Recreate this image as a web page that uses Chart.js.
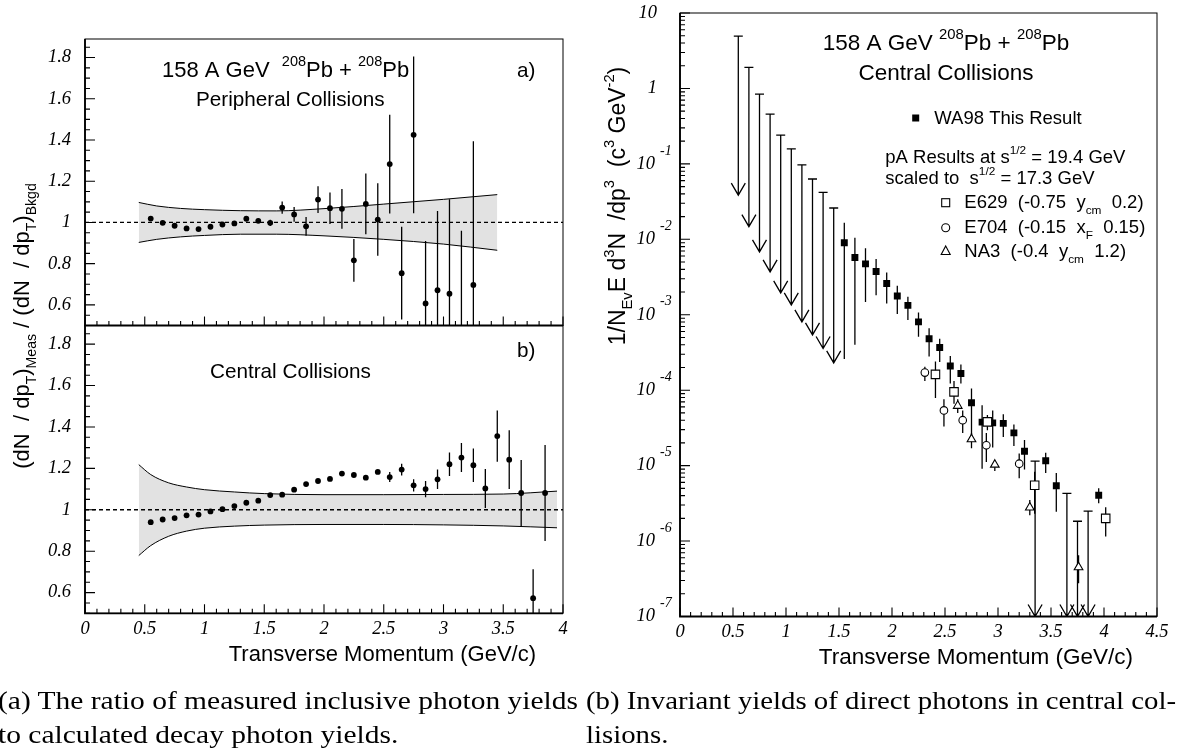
<!DOCTYPE html>
<html lang="en">
<head>
<meta charset="UTF-8">
<title>WA98 direct photons</title>
<script src="https://cdn.jsdelivr.net/npm/chart.js"></script>
<style>
  body { margin: 0; background: #fff; }
  #page { position: relative; width: 1180px; height: 749px; overflow: hidden; background: #fff; }
  #page canvas { position: absolute; left: 0; top: 0; }
  .cap {
    position: absolute;
    font-family: 'Liberation Serif', 'Times New Roman', serif;
    font-size: 26px;
    line-height: 26px;
    white-space: nowrap;
    transform-origin: 0 0;
    color: #000;
  }
</style>
</head>
<body>
<div id="page">
  <canvas id="periph" width="1180" height="749"></canvas>
  <canvas id="central" width="1180" height="749"></canvas>
  <canvas id="yields" width="1180" height="749"></canvas>
  <div class="cap" id="capA1" data-w="580" data-pair="capA2" style="left:-2px; top:688px;">(a) The ratio of measured inclusive photon yields</div>
  <div class="cap" id="capA2" style="left:-2px; top:722px;">to calculated decay photon yields.</div>
  <div class="cap" id="capB1" data-w="590" data-pair="capB2" style="left:586px; top:688px;">(b) Invariant yields of direct photons in central col-</div>
  <div class="cap" id="capB2" style="left:586px; top:722px;">lisions.</div>
</div>

<script>
// ---------- data: panel a) peripheral collisions, ratio meas / bkgd ----------
const ptPeri = [0.55, 0.65, 0.75, 0.85, 0.95, 1.05, 1.15, 1.25, 1.35, 1.45, 1.55, 1.65, 1.75, 1.85,
                1.95, 2.05, 2.15, 2.25, 2.35, 2.45, 2.55, 2.65, 2.75, 2.85, 2.95, 3.05, 3.15, 3.25];
const ratioPeri = [1.019, 0.998, 0.984, 0.971, 0.968, 0.979, 0.990, 0.995, 1.018, 1.008, 0.998, 1.072, 1.039, 0.981,
                   1.111, 1.069, 1.066, 0.816, 1.090, 1.014, 1.283, 0.754, 1.425, 0.607, 0.671, 0.654, 0.400, 0.697];
const errPeri = [0.006, 0.006, 0.006, 0.006, 0.006, 0.007, 0.007, 0.008, 0.008, 0.010, 0.015, 0.030, 0.036, 0.046,
                 0.065, 0.076, 0.096, 0.104, 0.147, 0.176, 0.240, 0.225, 0.380, 0.303, 0.384, 0.459, 0.560, 0.697];
const bandXPeri = [0.45, 0.6, 0.8, 1.0, 1.3, 1.6, 2.0, 2.5, 3.0, 3.45];
const bandHiPeri = [1.097, 1.080, 1.068, 1.062, 1.057, 1.056, 1.067, 1.089, 1.112, 1.135];
const bandLoPeri = [0.903, 0.918, 0.930, 0.937, 0.943, 0.943, 0.935, 0.918, 0.895, 0.865];

// ---------- data: panel b) central collisions ----------
const ptCent = [0.55, 0.65, 0.75, 0.85, 0.95, 1.05, 1.15, 1.25, 1.35, 1.45, 1.55, 1.65, 1.75, 1.85, 1.95, 2.05, 2.15,
                2.25, 2.35, 2.45, 2.55, 2.65, 2.75, 2.85, 2.95, 3.05, 3.15, 3.25, 3.35, 3.45, 3.55, 3.65, 3.75, 3.85];
const ratioCent = [0.940, 0.953, 0.960, 0.973, 0.977, 0.992, 1.003, 1.018, 1.034, 1.044, 1.071, 1.073, 1.097, 1.124,
                   1.139, 1.149, 1.175, 1.168, 1.155, 1.183, 1.158, 1.194, 1.118, 1.100, 1.147, 1.220, 1.252, 1.215,
                   1.103, 1.356, 1.242, 1.081, 0.573, 1.081];
const errCent = [0.005, 0.005, 0.005, 0.005, 0.005, 0.005, 0.005, 0.005, 0.005, 0.005, 0.005, 0.005, 0.005, 0.005,
                 0.005, 0.005, 0.005, 0.005, 0.005, 0.005, 0.024, 0.028, 0.030, 0.039, 0.047, 0.057, 0.070, 0.081,
                 0.094, 0.124, 0.142, 0.159, 0.140, 0.232];
const bandXCent = [0.45, 0.55, 0.7, 0.85, 1.0, 1.25, 1.5, 2.0, 2.5, 3.0, 3.5, 3.95];
const bandHiCent = [1.218, 1.170, 1.130, 1.110, 1.097, 1.086, 1.078, 1.073, 1.073, 1.074, 1.076, 1.090];
const bandLoCent = [0.779, 0.827, 0.872, 0.897, 0.911, 0.921, 0.926, 0.929, 0.929, 0.927, 0.922, 0.913];

// ---------- data: invariant yields (right) ----------
const ptWA = [1.55, 1.65, 1.75, 1.85, 1.95, 2.05, 2.15, 2.25, 2.35, 2.45, 2.55, 2.65, 2.75, 2.85, 2.95, 3.05, 3.15,
              3.25, 3.45, 3.55, 3.95];
const yieldWA = [9.0e-3, 5.75e-3, 4.73e-3, 3.75e-3, 2.6e-3, 1.77e-3, 1.33e-3, 8.05e-4, 4.8e-4, 3.68e-4, 2.09e-4,
                 1.66e-4, 6.8e-5, 3.77e-5, 3.69e-5, 3.63e-5, 2.72e-5, 1.55e-5, 1.16e-5, 5.4e-6, 4.05e-6];
const yieldWAHi = [1.66e-2, 1.05e-2, 7.6e-3, 5.5e-3, 3.63e-3, 2.42e-3, 1.73e-3, 1.07e-3, 6.6e-4, 4.8e-4, 2.85e-4,
                   2.19e-4, 1.05e-4, 6.3e-5, 5.4e-5, 4.8e-5, 3.5e-5, 2.19e-5, 1.48e-5, 8.0e-6, 5.0e-6];
const yieldWALo = [2.6e-4, 4.0e-4, 1.48e-3, 1.82e-3, 1.41e-3, 1.02e-3, 8.5e-4, 5.1e-4, 2.8e-4, 2.37e-4, 1.23e-4,
                   1.23e-4, 2.2e-5, 9.1e-6, 1.74e-5, 2.4e-5, 1.82e-5, 8.9e-6, 8.0e-6, 2.45e-6, 3.16e-6];

// upper limits: top of the bar and where the arrow points
const ptUL = [0.55, 0.65, 0.75, 0.85, 0.95, 1.05, 1.15, 1.25, 1.35, 1.45, 3.35, 3.65, 3.75, 3.85];
const limUL = [4.95, 1.9, 0.84, 0.457, 0.24, 0.158, 0.097, 0.063, 0.042, 0.026, 1.15e-5, 4.3e-6, 1.83e-6, 2.5e-6];
const tipUL = [3.85e-2, 1.47e-2, 6.8e-3, 3.7e-3, 1.95e-3, 1.35e-3, 8.05e-4, 5.4e-4, 3.57e-4, 2.3e-4,
               1e-7, 1e-7, 1e-7, 1e-7];

const ptE629 = [2.41, 2.585, 2.90, 3.346, 4.016];
const yE629 = [1.62e-4, 9.5e-5, 3.8e-5, 5.5e-6, 2.0e-6];
const hiE629 = [2.4e-4, 1.32e-4, 4.7e-5, 8.3e-6, 2.8e-6];
const loE629 = [7.9e-5, 6.6e-5, 2.95e-5, 2.3e-6, 1.15e-6];

const ptE704 = [2.31, 2.49, 2.667, 2.89, 3.20];
const yE704 = [1.71e-4, 5.4e-5, 4.0e-5, 1.86e-5, 1.06e-5];
const hiE704 = [2.04e-4, 7.6e-5, 5.4e-5, 2.7e-5, 1.45e-5];
const loE704 = [1.32e-4, 3.3e-5, 2.7e-5, 1.12e-5, 6.8e-6];

const ptNA3 = [2.62, 2.75, 2.97, 3.30, 3.76];
const yNA3 = [6.2e-5, 2.24e-5, 1.03e-5, 2.78e-6, 4.5e-7];
const hiNA3 = [7.6e-5, 2.7e-5, 1.17e-5, 3.5e-6, 6.5e-7];
const loNA3 = [5.0e-5, 1.7e-5, 8.5e-6, 2.2e-6, 2.75e-7];

// ---------- tick labels ----------
const xTicksLeft = [0, 0.5, 1, 1.5, 2, 2.5, 3, 3.5, 4];
const yTicksLeft = [0.6, 0.8, 1, 1.2, 1.4, 1.6, 1.8];
const xTicksRight = [0, 0.5, 1, 1.5, 2, 2.5, 3, 3.5, 4, 4.5];
const yTicksRight = [1e-7, 1e-6, 1e-5, 1e-4, 1e-3, 1e-2, 1e-1, 1, 10];

const SANS = "'Liberation Sans', Arial, Helvetica, sans-serif";
const SERIF = "'Liberation Serif', 'Times New Roman', serif";

Chart.defaults.animation = false;
Chart.defaults.events = [];
Chart.defaults.plugins.legend.display = false;
Chart.defaults.plugins.tooltip.enabled = false;

const toXY = (xs, ys) => xs.map((x, i) => ({x, y: ys[i]}));

// text with super/subscripts; parts are strings or [text, 'sup'|'sub']
function drawRich(ctx, x, y, parts, size, opt = {}) {
  const fam = opt.family || SANS, style = opt.style || '';
  const small = size * (opt.ratio || 0.64);
  const segs = parts.map(p => {
    const [t, m] = Array.isArray(p) ? p : [p, ''];
    const fs = m ? small : size;
    ctx.font = `${style} ${fs}px ${fam}`;
    return {t, m, fs, w: ctx.measureText(t).width};
  });
  const total = segs.reduce((s, g) => s + g.w, 0);
  let cx = opt.align === 'center' ? x - total / 2 : opt.align === 'right' ? x - total : x;
  ctx.textAlign = 'left';
  ctx.textBaseline = opt.baseline || 'alphabetic';
  segs.forEach(g => {
    ctx.font = `${style} ${g.fs}px ${fam}`;
    const dy = g.m === 'sup' ? -size * 0.48 : g.m === 'sub' ? size * 0.32 : 0;
    ctx.fillText(g.t, cx, y + dy);
    cx += g.w;
  });
  return total;
}

// vertical error bars and upper-limit arrows, drawn just under their own markers
const errorBars = {
  id: 'errorBars',
  beforeDatasetDraw(chart, args) {
    const ds = chart.data.datasets[args.index];
    if (!ds.yHi && !ds.arrowTo) return;
    const {ctx, chartArea: a} = chart;
    const xs = chart.scales.x, ys = chart.scales.y;
    ctx.save();
    ctx.beginPath();
    ctx.rect(a.left, a.top - 2, a.right - a.left, a.bottom - a.top + 2);
    ctx.clip();
    ctx.strokeStyle = '#000';
    ctx.lineWidth = 1.3;
    ctx.beginPath();
    ds.data.forEach((p, i) => {
      const px = xs.getPixelForValue(p.x);
      if (ds.yHi) {
        ctx.moveTo(px, ys.getPixelForValue(ds.yHi[i]));
        ctx.lineTo(px, ys.getPixelForValue(ds.yLo[i]));
      }
      if (ds.arrowTo) {
        const top = ys.getPixelForValue(p.y), tip = ys.getPixelForValue(ds.arrowTo[i]);
        ctx.moveTo(px, top); ctx.lineTo(px, tip);
        ctx.moveTo(px - 4.5, top); ctx.lineTo(px + 4.5, top);
        ctx.moveTo(px - 7, tip - 12); ctx.lineTo(px, tip); ctx.lineTo(px + 7, tip - 12);
      }
    });
    ctx.stroke();
    ctx.restore();
  }
};

// frame, inward ticks, tick labels and annotations
function axesPlugin(cfg) {
  return {
    id: 'axes_' + cfg.name,
    afterDatasetsDraw(chart) {
      const {ctx, chartArea: a} = chart;
      const xs = chart.scales.x, ys = chart.scales.y;
      ctx.save();
      ctx.strokeStyle = '#000';
      ctx.fillStyle = '#000';
      ctx.lineWidth = 1;
      ctx.strokeRect(a.left, a.top, a.right - a.left, a.bottom - a.top);
      ctx.lineWidth = 1.8;
      ctx.beginPath();
      ctx.moveTo(a.left, a.top); ctx.lineTo(a.left, a.bottom); ctx.lineTo(a.right, a.bottom);
      ctx.stroke();

      ctx.lineWidth = 1.1;
      ctx.beginPath();
      cfg.xMinor.forEach(v => { const px = xs.getPixelForValue(v); ctx.moveTo(px, a.bottom); ctx.lineTo(px, a.bottom - 4.5); });
      cfg.xMajor.forEach(v => { const px = xs.getPixelForValue(v); ctx.moveTo(px, a.bottom); ctx.lineTo(px, a.bottom - 9); });
      cfg.yMinor.forEach(v => { const py = ys.getPixelForValue(v); ctx.moveTo(a.left, py); ctx.lineTo(a.left + 5, py); });
      cfg.yMajor.forEach(v => { const py = ys.getPixelForValue(v); ctx.moveTo(a.left, py); ctx.lineTo(a.left + 10, py); });
      ctx.stroke();

      const lab = {family: SERIF, style: 'italic', baseline: 'middle'};
      if (cfg.xLabelY) {
        cfg.xMajor.forEach(v => drawRich(ctx, xs.getPixelForValue(v), cfg.xLabelY, [String(v)], 18.5, {...lab, align: 'center'}));
      }
      if (cfg.logY) {
        cfg.yMajor.forEach(v => {
          const e = Math.round(Math.log10(v)), py = ys.getPixelForValue(v);
          if (e >= 0) {
            drawRich(ctx, cfg.yLabelX + 2, py, [String(v)], 18.5, {...lab, align: 'right'});
          } else {
            drawRich(ctx, cfg.yLabelX, py, ['10'], 18.5, {...lab, align: 'right'});
            drawRich(ctx, cfg.yLabelX + 5, py - 13, [String(e)], 14, {...lab, align: 'left'});
          }
        });
      } else {
        cfg.yMajor.forEach(v => drawRich(ctx, cfg.yLabelX, ys.getPixelForValue(v), [String(v)], 18.5, {...lab, align: 'right'}));
      }
      if (cfg.notes) cfg.notes(ctx);
      ctx.restore();
    }
  };
}

function linearMinor(from, to, step) {
  const out = [];
  const n = Math.round((to - from) / step);
  for (let i = 0; i <= n; i++) out.push(+(from + i * step).toFixed(4));
  return out;
}
function logMinor(eMin, eMax) {
  const out = [];
  for (let e = eMin; e < eMax; e++) for (let k = 2; k <= 9; k++) out.push(k * Math.pow(10, e));
  return out;
}

function ratioChart(id, pts, vals, errs, bandX, bandHi, bandLo, pad, cfg) {
  return new Chart(document.getElementById(id), {
    type: 'scatter',
    data: {
      datasets: [
        {
          data: toXY(pts, vals),
          yHi: vals.map((v, i) => v + errs[i]),
          yLo: vals.map((v, i) => v - errs[i]),
          pointRadius: 2.9, pointBackgroundColor: '#000', pointBorderColor: '#000', pointBorderWidth: 0,
          order: 1
        },
        {
          type: 'line', data: toXY([0, 4], [1, 1]),
          borderColor: '#000', borderWidth: 1.3, borderDash: [4, 3], pointRadius: 0, fill: false, order: 2
        },
        {
          type: 'line', data: toXY(bandX, bandHi),
          borderColor: '#000', borderWidth: 1, pointRadius: 0, cubicInterpolationMode: 'monotone',
          fill: '+1', backgroundColor: '#e2e2e2', order: 4
        },
        {
          type: 'line', data: toXY(bandX, bandLo),
          borderColor: '#000', borderWidth: 1, pointRadius: 0, cubicInterpolationMode: 'monotone',
          fill: false, order: 3
        }
      ]
    },
    options: {
      responsive: false,
      devicePixelRatio: 1,
      layout: {padding: pad},
      scales: {
        x: {type: 'linear', min: 0, max: 4, display: false},
        y: {type: 'linear', min: 0.5, max: 1.89, display: false}
      }
    },
    plugins: [errorBars, axesPlugin(cfg)]
  });
}

const leftCommon = {
  xMajor: xTicksLeft, xMinor: linearMinor(0, 4, 0.1),
  yMajor: yTicksLeft, yMinor: linearMinor(0.5, 1.85, 0.05),
  yLabelX: 71
};

ratioChart('periph', ptPeri, ratioPeri, errPeri, bandXPeri, bandHiPeri, bandLoPeri,
  {left: 85, top: 39, right: 617, bottom: 423.5},
  {...leftCommon, name: 'a',
   notes(ctx) {
     drawRich(ctx, 162, 77, ['158 A GeV  ', ['208', 'sup'], 'Pb + ', ['208', 'sup'], 'Pb'], 22, {ratio: 0.66});
     drawRich(ctx, 196, 106, ['Peripheral Collisions'], 20.7);
     drawRich(ctx, 517, 77, ['a)'], 20.7);
   }});

ratioChart('central', ptCent, ratioCent, errCent, bandXCent, bandHiCent, bandLoCent,
  {left: 85, top: 325.5, right: 617, bottom: 135.7},
  {...leftCommon, name: 'b', xLabelY: 629,
   notes(ctx) {
     drawRich(ctx, 210, 378, ['Central Collisions'], 20.7);
     drawRich(ctx, 517, 357, ['b)'], 20.7);
     drawRich(ctx, 536, 661, ['Transverse Momentum (GeV/c)'], 22, {align: 'right'});
     ctx.save();
     ctx.translate(29, 326);
     ctx.rotate(-Math.PI / 2);
     drawRich(ctx, 0, 0, ['(dN  / dp', ['T', 'sub'], ')', ['Meas', 'sub'], ' / (dN  / dp', ['T', 'sub'], ')', ['Bkgd', 'sub']],
       22, {align: 'center'});
     ctx.restore();
   }});

function legendMarks(ctx) {
  ctx.lineWidth = 1.1;
  ctx.fillStyle = '#000';
  ctx.fillRect(912.2, 114.5, 7, 7);
  ctx.strokeRect(941.7, 198.7, 8, 8);
  ctx.beginPath(); ctx.arc(945.7, 227.7, 4, 0, Math.PI * 2); ctx.stroke();
  ctx.beginPath();
  ctx.moveTo(945.7, 246); ctx.lineTo(950.2, 254.5); ctx.lineTo(941.2, 254.5); ctx.closePath(); ctx.stroke();
}

new Chart(document.getElementById('yields'), {
  type: 'scatter',
  data: {
    datasets: [
      {
        data: toXY(ptUL, limUL), arrowTo: tipUL, pointRadius: 0, order: 5
      },
      {
        data: toXY(ptWA, yieldWA), yHi: yieldWAHi, yLo: yieldWALo,
        pointStyle: 'rect', pointRadius: 4.9, pointBackgroundColor: '#000', pointBorderColor: '#000',
        pointBorderWidth: 0, order: 4
      },
      {
        data: toXY(ptE629, yE629), yHi: hiE629, yLo: loE629,
        pointStyle: 'rect', pointRadius: 6, pointBackgroundColor: '#fff', pointBorderColor: '#000',
        pointBorderWidth: 1.1, order: 3
      },
      {
        data: toXY(ptE704, yE704), yHi: hiE704, yLo: loE704,
        pointStyle: 'circle', pointRadius: 3.8, pointBackgroundColor: '#fff', pointBorderColor: '#000',
        pointBorderWidth: 1.1, order: 2
      },
      {
        data: toXY(ptNA3, yNA3), yHi: hiNA3, yLo: loNA3,
        pointStyle: 'triangle', pointRadius: 5, pointBackgroundColor: '#fff', pointBorderColor: '#000',
        pointBorderWidth: 1.1, order: 1
      }
    ]
  },
  options: {
    responsive: false,
    devicePixelRatio: 1,
    layout: {padding: {left: 680, top: 13, right: 23, bottom: 132.5}},
    scales: {
      x: {type: 'linear', min: 0, max: 4.5, display: false},
      y: {type: 'logarithmic', min: 1e-7, max: 10, display: false}
    }
  },
  plugins: [errorBars, axesPlugin({
    name: 'c', logY: true,
    xMajor: xTicksRight, xMinor: linearMinor(0, 4.5, 0.1),
    yMajor: yTicksRight, yMinor: logMinor(-7, 1),
    yLabelX: 655, xLabelY: 632,
    notes(ctx) {
      drawRich(ctx, 946, 50, ['158 A GeV ', ['208', 'sup'], 'Pb + ', ['208', 'sup'], 'Pb'], 22.5, {align: 'center', ratio: 0.66});
      drawRich(ctx, 946, 80, ['Central Collisions'], 22.5, {align: 'center'});
      drawRich(ctx, 934.3, 124, ['WA98 This Result'], 18.5);
      drawRich(ctx, 885.3, 163.3, ['pA Results at s', ['1/2', 'sup'], ' = 19.4 GeV'], 18.5);
      drawRich(ctx, 885.3, 184.3, ['scaled to  s', ['1/2', 'sup'], ' = 17.3 GeV'], 18.5);
      drawRich(ctx, 964.3, 208.3, ['E629  (-0.75  y', ['cm', 'sub'], '  0.2)'], 18.5);
      drawRich(ctx, 964.3, 233.3, ['E704  (-0.15  x', ['F', 'sub'], '  0.15)'], 18.5);
      drawRich(ctx, 964.3, 256.7, ['NA3  (-0.4  y', ['cm', 'sub'], '  1.2)'], 18.5);
      legendMarks(ctx);
      drawRich(ctx, 1133, 664, ['Transverse Momentum (GeV/c)'], 22.5, {align: 'right'});
      ctx.save();
      ctx.translate(625, 206);
      ctx.rotate(-Math.PI / 2);
      drawRich(ctx, 0, 0, ['1/N', ['Ev', 'sub'], 'E d', ['3', 'sup'], 'N  /dp', ['3', 'sup'], '  (c', ['3', 'sup'],
        ' GeV', ['-2', 'sup'], ')'], 23, {align: 'center'});
      ctx.restore();
    }
  })]
});

// stretch the caption lines to the width they take in the figure
document.querySelectorAll('.cap[data-w]').forEach(el => {
  const s = +el.dataset.w / el.getBoundingClientRect().width;
  el.style.transform = `scaleX(${s})`;
  const pair = document.getElementById(el.dataset.pair);
  if (pair) pair.style.transform = `scaleX(${s})`;
});
</script>
</body>
</html>
